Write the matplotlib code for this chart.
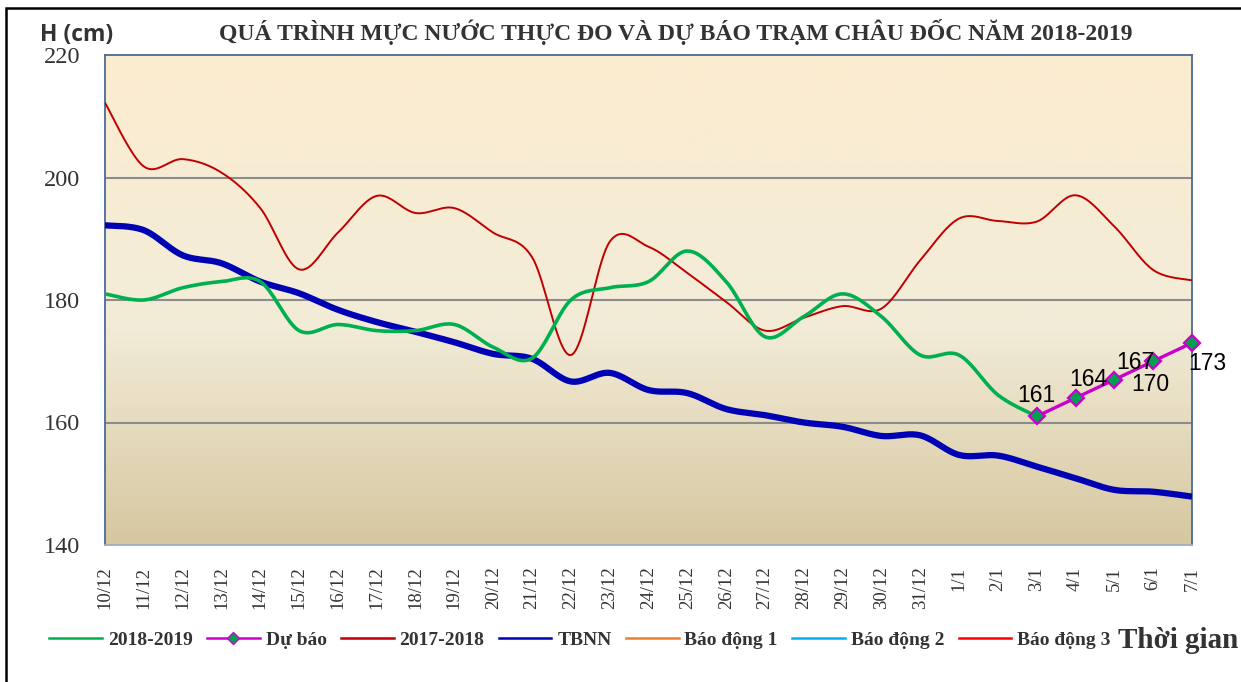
import numpy as np
import matplotlib
matplotlib.use("Agg")
import matplotlib.pyplot as plt
from matplotlib.lines import Line2D
from matplotlib.patches import Rectangle

# ---------------- data ----------------
dates = ["10/12", "11/12", "12/12", "13/12", "14/12", "15/12", "16/12", "17/12",
         "18/12", "19/12", "20/12", "21/12", "22/12", "23/12", "24/12", "25/12",
         "26/12", "27/12", "28/12", "29/12", "30/12", "31/12", "1/1", "2/1",
         "3/1", "4/1", "5/1", "6/1", "7/1"]

obs_2018_2019 = [181, 180, 182, 183, 183, 175, 176, 175, 175, 176, 172.3, 170.5,
                 180, 182, 183, 188, 183, 174, 177.3, 181, 177.3, 171, 171, 164.5, 161]

forecast_dates = ["3/1", "4/1", "5/1", "6/1", "7/1"]
forecast = [161, 164, 167, 170, 173]

obs_2017_2018 = [212.2, 201.8, 203, 200.8, 195, 185, 191, 197, 194.2, 195, 191, 187,
                 171, 189.5, 188.7, 184.4, 179.7, 175, 177.1, 179, 178.6, 186.5,
                 193.3, 192.9, 192.8, 197.1, 192, 184.9, 183.2]

tbnn = [192.2, 191.4, 187.3, 186, 183, 181.1, 178.4, 176.4, 174.8, 173.1, 171.2, 170.4,
        166.7, 168.1, 165.3, 164.8, 162.2, 161.2, 160, 159.3, 157.8, 157.9,
        154.7, 154.6, 152.8, 150.9, 149, 148.7, 147.9]

y_ticks = [140, 160, 180, 200, 220]

# ---------------- helpers ----------------
def smooth(xs, ys, n=20):
    """Catmull-Rom curve through the points (Excel-like smoothed line)."""
    xs = np.asarray(xs, float)
    ys = np.asarray(ys, float)
    P = np.column_stack([xs, ys])
    P = np.vstack([P[0], P, P[-1]])
    out = []
    t = np.linspace(0, 1, n, endpoint=False)
    for i in range(1, len(P) - 2):
        p0, p1, p2, p3 = P[i - 1], P[i], P[i + 1], P[i + 2]
        c1 = p1 + (p2 - p0) / 6.0
        c2 = p2 - (p3 - p1) / 6.0
        tt = t[:, None]
        seg = ((1 - tt) ** 3) * p1 + 3 * ((1 - tt) ** 2) * tt * c1 + 3 * (1 - tt) * tt ** 2 * c2 + tt ** 3 * p2
        out.append(seg)
    out.append(P[-2][None, :])
    out = np.vstack(out)
    return out[:, 0], out[:, 1]

# ---------------- figure ----------------
fig = plt.figure(figsize=(12.41, 6.82), dpi=100)
ax = fig.add_axes([105 / 1241, 1 - 545 / 682, (1192 - 105) / 1241, (545 - 55) / 682])

x_all = np.arange(len(dates))
ax.set_xlim(0, len(dates) - 1)
ax.set_ylim(140, 220)

# gradient background
top = np.array([252, 236, 208]) / 255
mid = np.array([242, 236, 216]) / 255
bot = np.array([214, 199, 160]) / 255
v = np.linspace(0, 1, 256)[:, None]
grad = np.where(v < 0.55, top + (mid - top) * (v / 0.55),
                mid + (bot - mid) * ((v - 0.55) / 0.45))
grad = grad.reshape(256, 1, 3)
ax.imshow(grad, extent=[0, 1, 0, 1], transform=ax.transAxes, aspect="auto", zorder=0)

for yv in [160, 180, 200]:
    ax.axhline(yv, color="#8c8c8c", lw=1.5, zorder=1)

sx, sy = smooth(x_all, obs_2017_2018)
ax.plot(sx, sy, color="#c00000", lw=1.4, zorder=3)
sx, sy = smooth(x_all, tbnn)
ax.plot(sx, sy, color="#0000b4", lw=4.5, zorder=3, solid_capstyle="butt")
sx, sy = smooth(x_all[:len(obs_2018_2019)], obs_2018_2019)
ax.plot(sx, sy, color="#00b050", lw=2.6, zorder=4)

fx = [dates.index(d) for d in forecast_dates]
ax.plot(fx, forecast, color="#cc00cc", lw=2.4, marker="D", ms=8.5,
        mfc="#00a050", mec="#cc00cc", mew=1.6, zorder=5, clip_on=False)

offsets = [(0, 15), (9, 13), (15, 12), (-2, -17), (11, -15)]
for xi, val, (dx, dy) in zip(fx, forecast, offsets):
    ax.annotate(f"{val:g}", (xi, val), xytext=(dx, dy), textcoords="offset points",
                ha="center", va="center", fontsize=16.5, family="Liberation Sans",
                color="black", zorder=6, annotation_clip=False)

ax.set_xticks(x_all)
ax.set_xticklabels(dates, rotation=90, family="Liberation Serif", fontsize=13.5, color="#333333")
ax.set_yticks(y_ticks)
ax.set_yticklabels([str(t) for t in y_ticks], family="Liberation Serif", fontsize=17.5, color="#333333")
ax.tick_params(axis="both", length=0)
ax.tick_params(axis="x", pad=15.5)
ax.tick_params(axis="y", pad=18)

for side in ["left", "right", "top"]:
    ax.spines[side].set_color("#4a6a96")
    ax.spines[side].set_linewidth(1.3)
ax.spines["bottom"].set_color("#a0aec0")
ax.spines["bottom"].set_linewidth(1.3)

# titles
fig.text(676 / 1241, 1 - 32 / 682,
         "QUÁ TRÌNH MỰC NƯỚC THỰC ĐO VÀ DỰ BÁO TRẠM CHÂU ĐỐC NĂM 2018-2019",
         ha="center", va="center", family="Liberation Serif", fontweight="bold",
         fontsize=17, color="#333333")
fig.text(40 / 1241, 1 - 35 / 682, "H (cm)", ha="left", va="center",
         family="Open Sans", fontweight="bold", fontsize=16.5, color="#333333")

# legend
handles = [
    Line2D([], [], color="#00b050", lw=1.8),
    Line2D([], [], color="#cc00cc", lw=1.8, marker="D", ms=6, mfc="#00a050", mec="#cc00cc"),
    Line2D([], [], color="#c00000", lw=1.8),
    Line2D([], [], color="#0000b4", lw=1.8),
    Line2D([], [], color="#ed7d31", lw=1.8),
    Line2D([], [], color="#00b0f0", lw=1.8),
    Line2D([], [], color="#ff0000", lw=1.8),
]
labels = ["2018-2019", "Dự báo", "2017-2018", "TBNN", "Báo động 1", "Báo động 2", "Báo động 3"]
leg = fig.legend(handles, labels, loc="center", ncol=7, frameon=False,
                 bbox_to_anchor=(580 / 1241, 1 - 640 / 682),
                 prop={"family": "Liberation Serif", "weight": "bold", "size": 14},
                 handlelength=2.7, handletextpad=0.3, columnspacing=0.75)
for t in leg.get_texts():
    t.set_color("#333333")
fig.text(1238 / 1241, 1 - 640 / 682, "Thời gian", ha="right", va="center",
         family="Liberation Serif", fontweight="bold", fontsize=21, color="#333333")

# outer frame
fig.patches.append(Rectangle((6 / 1241, -0.02), 1.05, 1 - 8 / 682 + 0.02,
                             transform=fig.transFigure, fill=False,
                             edgecolor="black", lw=1.8, zorder=10))

fig.savefig("out.png", dpi=100)
